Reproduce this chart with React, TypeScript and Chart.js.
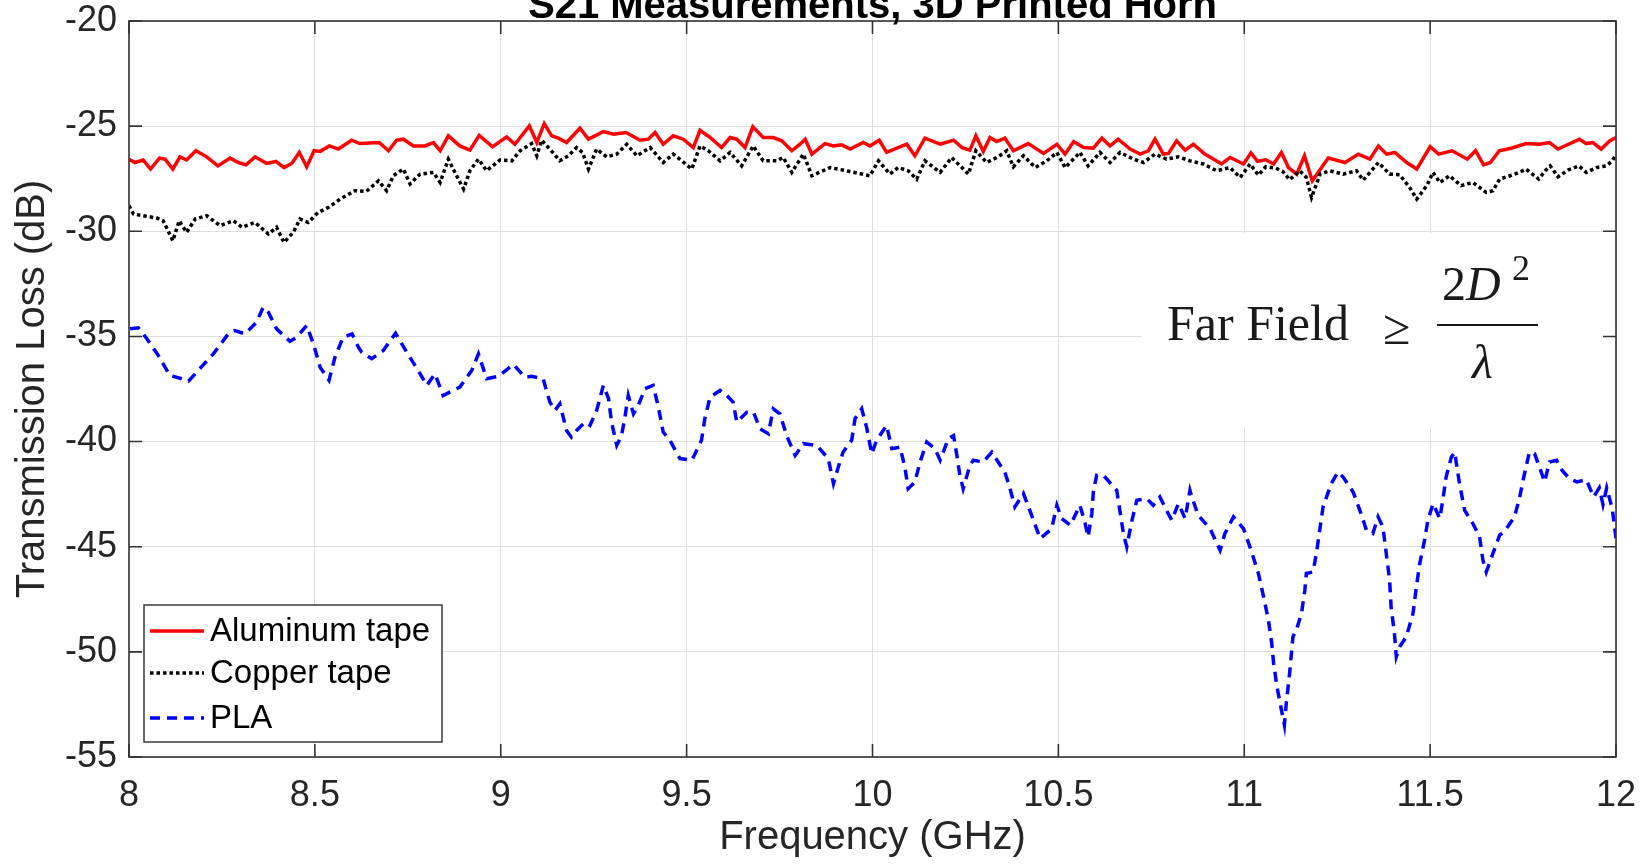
import React, { useEffect, useRef } from "react";
import { Chart, registerables } from "chart.js";

Chart.register(...registerables);

const TITLE = "S21 Measurements, 3D Printed Horn";
const X_LABEL = "Frequency (GHz)";
const Y_LABEL = "Transmission Loss (dB)";
const SERIES_NAMES = ["Aluminum tape", "Copper tape", "PLA"];

const xTicks = [8, 8.5, 9, 9.5, 10, 10.5, 11, 11.5, 12];
const yTicks = [-55, -50, -45, -40, -35, -30, -25, -20];

const alFreq = [
  8.0, 8.016, 8.038, 8.058, 8.082, 8.097, 8.118, 8.137, 8.155, 8.18, 8.209, 8.239, 8.272, 8.294, 8.315, 8.339,
  8.37, 8.395, 8.417, 8.438, 8.458, 8.478, 8.498, 8.514, 8.539, 8.563, 8.599, 8.621, 8.673, 8.698, 8.72, 8.738,
  8.765, 8.796, 8.819, 8.837, 8.859, 8.89, 8.917, 8.942, 8.978, 9.016, 9.038, 9.077, 9.097, 9.117, 9.137, 9.155,
  9.177, 9.213, 9.236, 9.276, 9.303, 9.337, 9.375, 9.397, 9.415, 9.437, 9.464, 9.491, 9.518, 9.536, 9.563, 9.594,
  9.617, 9.635, 9.657, 9.678, 9.706, 9.733, 9.756, 9.783, 9.805, 9.819, 9.837, 9.872, 9.895, 9.917, 9.94, 9.975,
  9.993, 10.018, 10.038, 10.069, 10.092, 10.114, 10.141, 10.182, 10.218, 10.241, 10.262, 10.278, 10.298, 10.316,
  10.334, 10.356, 10.379, 10.419, 10.46, 10.496, 10.518, 10.541, 10.568, 10.594, 10.617, 10.639, 10.661, 10.693,
  10.72, 10.742, 10.76, 10.782, 10.796, 10.818, 10.841, 10.863, 10.894, 10.939, 10.962, 10.998, 11.018, 11.036,
  11.058, 11.079, 11.1, 11.119, 11.141, 11.162, 11.183, 11.226, 11.271, 11.307, 11.338, 11.361, 11.383, 11.405,
  11.437, 11.464, 11.5, 11.523, 11.559, 11.6, 11.622, 11.644, 11.662, 11.686, 11.718, 11.758, 11.794, 11.821,
  11.844, 11.902, 11.92, 11.938, 11.96, 11.983, 12.0,
];
const alLoss = [
  -26.57, -26.73, -26.61, -27.04, -26.52, -26.57, -27.04, -26.46, -26.61, -26.17, -26.46, -26.89, -26.52, -26.73, -26.84, -26.46,
  -26.77, -26.68, -26.97, -26.77, -26.25, -26.93, -26.17, -26.2, -25.94, -26.09, -25.67, -25.83, -25.78, -26.17, -25.67, -25.62,
  -25.94, -25.94, -25.78, -26.17, -25.46, -25.94, -26.14, -25.44, -25.98, -25.51, -25.86, -24.99, -25.78, -24.88, -25.46, -25.57,
  -25.78, -25.1, -25.62, -25.26, -25.38, -25.3, -25.67, -25.62, -25.3, -25.86, -25.46, -25.62, -26.02, -25.2, -25.54, -26.02,
  -25.54, -25.62, -26.02, -25.03, -25.54, -25.54, -25.7, -26.17, -25.86, -25.62, -26.33, -25.83, -25.94, -25.89, -26.09, -25.78,
  -25.94, -25.67, -26.25, -26.02, -25.86, -26.41, -25.57, -25.86, -25.67, -26.02, -26.14, -25.46, -26.2, -25.54,
  -25.73, -25.57, -26.17, -25.83, -26.3, -25.86, -26.33, -25.73, -26.02, -26.05, -25.57, -25.94, -25.62, -26.09,
  -26.33, -26.17, -25.62, -26.33, -26.3, -25.7, -26.14, -25.86, -26.33, -26.8, -26.49, -26.8, -26.27, -26.67,
  -26.6, -26.8, -26.25, -26.97, -27.28, -26.41, -27.6, -26.52, -26.73, -26.33, -26.57, -25.94, -26.33, -26.25,
  -26.73, -27.04, -25.98, -26.33, -26.17, -26.57, -26.17, -26.84, -26.73, -26.17, -26.05, -25.83, -25.86, -25.78,
  -26.09, -25.62, -25.83, -25.78, -26.09, -25.7, -25.54,
];

const cuFreq = [
  8.0, 8.012, 8.038, 8.075, 8.092, 8.118, 8.135, 8.155, 8.178, 8.209, 8.245, 8.281, 8.304, 8.339, 8.375, 8.397,
  8.417, 8.442, 8.46, 8.482, 8.509, 8.536, 8.568, 8.608, 8.639, 8.671, 8.693, 8.711, 8.738, 8.756, 8.783, 8.819,
  8.837, 8.859, 8.872, 8.9, 8.917, 8.94, 8.962, 8.998, 9.03, 9.052, 9.083, 9.097, 9.11, 9.132, 9.159, 9.182,
  9.204, 9.22, 9.236, 9.258, 9.285, 9.312, 9.339, 9.366, 9.402, 9.437, 9.464, 9.487, 9.514, 9.536, 9.558, 9.59,
  9.617, 9.648, 9.679, 9.706, 9.742, 9.76, 9.783, 9.814, 9.837, 9.886, 9.94, 9.993, 10.016, 10.047, 10.069, 10.096,
  10.119, 10.141, 10.182, 10.213, 10.258, 10.278, 10.307, 10.338, 10.361, 10.379, 10.406, 10.438, 10.469, 10.496,
  10.518, 10.558, 10.58, 10.612, 10.639, 10.666, 10.702, 10.729, 10.76, 10.791, 10.823, 10.854, 10.89, 10.926,
  10.962, 10.989, 11.016, 11.038, 11.058, 11.085, 11.104, 11.122, 11.149, 11.167, 11.181, 11.204, 11.23, 11.266,
  11.302, 11.32, 11.361, 11.391, 11.418, 11.445, 11.464, 11.491, 11.508, 11.526, 11.552, 11.583, 11.615, 11.651,
  11.669, 11.687, 11.715, 11.74, 11.758, 11.792, 11.81, 11.823, 11.844, 11.871, 11.9, 11.92, 11.947, 11.974, 11.99,
  12.0,
];
const cuLoss = [
  -28.78, -29.18, -29.26, -29.37, -29.5, -30.45, -29.5, -30.05, -29.42, -29.26, -29.73, -29.5, -29.81, -29.58, -30.13, -29.81,
  -30.53, -30.05, -29.42, -29.58, -29.1, -28.87, -28.47, -28.07, -28.1, -27.6, -28.07, -27.36, -27.04, -27.75, -27.28, -27.2,
  -27.68, -26.57, -27.04, -27.99, -27.12, -26.57, -27.12, -26.61, -26.65, -26.17, -25.83, -26.41, -25.67, -26.09, -26.65, -26.41,
  -26.02, -26.25, -27.04, -26.09, -26.46, -26.33, -25.86, -26.41, -26.02, -26.73, -26.33, -26.65, -27.04, -25.94, -26.17, -26.65,
  -26.25, -26.89, -25.94, -26.65, -26.65, -26.49, -27.2, -26.33, -27.36, -26.97, -27.16, -27.36, -26.65, -27.28, -26.97, -27.12,
  -27.52, -26.65, -27.2, -26.49, -27.28, -26.17, -26.73, -26.46, -26.17, -26.93, -26.41, -26.97, -26.65, -26.25,
  -26.97, -26.25, -26.89, -26.25, -26.73, -26.25, -26.57, -26.73, -26.33, -26.57, -26.46, -26.65, -26.8, -27.12,
  -26.97, -27.44, -26.8, -27.33, -26.93, -27.0, -27.16, -27.55, -27.12, -27.44, -28.39, -27.28, -27.12, -27.28,
  -27.12, -27.57, -26.73, -27.28, -27.31, -27.92, -28.47, -27.83, -27.2, -27.68, -27.36, -27.83, -27.68, -28.15,
  -28.07, -27.52, -27.36, -27.2, -27.04, -27.52, -27.12, -26.89, -27.41, -27.09, -26.89, -27.2, -26.97, -26.89, -26.65,
  -26.33,
];

const plaFreq = [
  8.003, 8.025, 8.048, 8.079, 8.11, 8.142, 8.16, 8.19, 8.227, 8.267, 8.285, 8.312, 8.343, 8.361, 8.375, 8.397,
  8.433, 8.451, 8.478, 8.496, 8.514, 8.538, 8.554, 8.576, 8.6, 8.617, 8.626, 8.653, 8.684, 8.717, 8.747, 8.778,
  8.801, 8.823, 8.845, 8.89, 8.922, 8.94, 8.962, 8.993, 9.034, 9.065, 9.083, 9.114, 9.132, 9.146, 9.159, 9.177,
  9.19, 9.204, 9.227, 9.24, 9.258, 9.276, 9.29, 9.298, 9.312, 9.325, 9.334, 9.343, 9.357, 9.37, 9.388, 9.41,
  9.424, 9.437, 9.455, 9.482, 9.514, 9.54, 9.549, 9.563, 9.59, 9.608, 9.625, 9.635, 9.662, 9.68, 9.697, 9.72,
  9.733, 9.751, 9.769, 9.792, 9.814, 9.85, 9.881, 9.895, 9.908, 9.921, 9.944, 9.953, 9.971, 9.984, 9.998, 10.011,
  10.038, 10.052, 10.074, 10.087, 10.096, 10.114, 10.128, 10.146, 10.168, 10.182, 10.204, 10.218, 10.227, 10.235,
  10.244, 10.262, 10.271, 10.298, 10.321, 10.329, 10.356, 10.37, 10.383, 10.406, 10.428, 10.451, 10.482, 10.496,
  10.509, 10.532, 10.558, 10.572, 10.58, 10.59, 10.594, 10.603, 10.621, 10.657, 10.666, 10.675, 10.684, 10.697,
  10.711, 10.738, 10.755, 10.773, 10.791, 10.805, 10.823, 10.841, 10.854, 10.859, 10.876, 10.908, 10.935, 10.948,
  10.971, 10.998, 11.02, 11.038, 11.052, 11.065, 11.074, 11.079, 11.088, 11.1, 11.108, 11.113, 11.122, 11.131,
  11.14, 11.154, 11.163, 11.167, 11.185, 11.194, 11.203, 11.212, 11.234, 11.252, 11.266, 11.293, 11.311, 11.329,
  11.346, 11.36, 11.373, 11.382, 11.391, 11.395, 11.404, 11.409, 11.418, 11.436, 11.454, 11.463, 11.472, 11.485,
  11.494, 11.508, 11.526, 11.534, 11.543, 11.557, 11.566, 11.579, 11.593, 11.615, 11.633, 11.642, 11.651, 11.669,
  11.687, 11.699, 11.727, 11.74, 11.754, 11.767, 11.781, 11.794, 11.808, 11.821, 11.84, 11.855, 11.875, 11.895,
  11.92, 11.94, 11.955, 11.965, 11.975, 11.99, 12.0,
];
const plaLoss = [
  -34.64, -34.59, -35.11, -35.91, -36.86, -37.01, -37.13, -36.54, -35.83, -34.88, -34.72, -34.88, -34.33, -33.61, -33.85, -34.64,
  -35.23, -35.04, -34.48, -35.35, -36.46, -37.09, -35.99, -35.04, -34.88, -35.51, -35.75, -36.06, -35.67, -34.85, -35.75, -36.62,
  -37.33, -36.78, -37.81, -37.41, -36.62, -35.83, -37.01, -36.9, -36.33, -36.94, -36.9, -37.01, -38.12, -38.52, -38.2, -39.47,
  -39.79, -39.47, -39.07, -39.23, -38.52, -37.33, -37.96, -39.07, -40.18, -39.71, -38.84, -37.81, -38.68, -38.28, -37.49, -37.33,
  -38.36, -39.55, -39.94, -40.81, -40.89, -39.94, -38.91, -37.89, -37.57, -37.81, -38.12, -39.07, -38.6, -38.6, -39.39, -39.63,
  -38.44, -38.68, -39.71, -40.66, -40.1, -40.18, -40.81, -42.0, -41.21, -40.5, -39.94, -38.91, -38.44, -39.31, -40.58, -39.94,
  -39.23, -40.34, -40.26, -41.21, -42.24, -41.92, -40.97, -40.02, -40.34, -40.89, -39.86, -39.71, -40.66, -41.6,
  -42.24, -41.13, -40.89, -40.97, -40.5, -40.73, -41.45, -42.24, -43.11, -42.47, -43.5, -44.61, -44.14, -43.03,
  -43.66, -43.98, -43.03, -43.9, -44.53, -43.42, -42.4, -41.6, -41.6, -42.32, -43.35, -44.37, -45.01, -43.82,
  -42.79, -42.71, -43.03, -42.63, -43.27, -43.74, -42.95, -43.66, -42.32, -42.63, -43.5, -44.14, -45.17, -44.37,
  -43.58, -44.14, -45.25, -46.27, -47.38, -48.49, -49.6, -50.55, -51.66, -52.76, -53.48, -52.45, -51.02, -49.28,
  -48.97, -48.17, -47.07, -46.27, -46.2, -45.32, -44.22, -43.11, -42.0, -41.45, -41.69, -42.4, -43.27, -44.22,
  -44.37, -43.58, -44.06, -45.32, -46.59, -47.86, -49.12, -50.23, -49.76, -49.28, -48.17, -46.91, -45.8, -44.69,
  -43.74, -42.95, -43.66, -42.79, -41.69, -40.74, -40.5, -42.0, -43.27, -43.9, -44.53, -45.64, -46.2, -45.32,
  -44.45, -44.3, -43.58, -42.71, -41.52, -40.5, -40.58, -41.21, -41.92, -40.97, -40.89, -41.37, -41.76, -41.92,
  -41.81, -42.63, -42.2, -43.0, -42.2, -43.2, -44.6,
];

const SANS = '"Liberation Sans", Arial, Helvetica, sans-serif';
const SERIF = '"Liberation Serif", "Times New Roman", Times, serif';
const AXIS_COLOR = "#333333";
const TEXT_COLOR = "#262626";
const GRID_COLOR = "#dedede";

const toPoints = (xs: number[], ys: number[]) => xs.map((x, i) => ({ x, y: ys[i] }));

const titlePlugin = {
  id: "cutTitle",
  afterDraw(chart: any) {
    const { ctx, chartArea } = chart;
    ctx.save();
    ctx.font = `bold 40px ${SANS}`;
    ctx.fillStyle = "#000000";
    ctx.textAlign = "center";
    ctx.textBaseline = "alphabetic";
    ctx.fillText(TITLE, (chartArea.left + chartArea.right) / 2, 18);
    ctx.restore();
  },
};

const formulaPlugin = {
  id: "farField",
  beforeDatasetsDraw(chart: any) {
    const { ctx } = chart;
    const xs = chart.scales.x;
    const ys = chart.scales.y;
    const x0 = xs.getPixelForValue(10.725);
    const x1 = xs.getPixelForValue(11.99);
    const y0 = ys.getPixelForValue(-30.1);
    const y1 = ys.getPixelForValue(-39.33);
    ctx.save();
    ctx.fillStyle = "#ffffff";
    ctx.fillRect(x0, y0, x1 - x0, y1 - y0);
    ctx.restore();
  },
  afterDatasetsDraw(chart: any) {
    const { ctx } = chart;
    ctx.save();
    ctx.fillStyle = "#1a1a1a";
    ctx.textBaseline = "alphabetic";
    ctx.textAlign = "left";
    ctx.font = `50px ${SERIF}`;
    ctx.fillText("Far Field", 1167, 340);
    ctx.fillText("\u2265", 1383, 344);
    ctx.font = `48px ${SERIF}`;
    ctx.fillText("2", 1442, 300);
    const w2 = ctx.measureText("2").width;
    ctx.font = `italic 48px ${SERIF}`;
    ctx.fillText("D", 1442 + w2, 300);
    ctx.font = `36px ${SERIF}`;
    ctx.fillText("2", 1512, 280);
    ctx.strokeStyle = "#1a1a1a";
    ctx.lineWidth = 2;
    ctx.beginPath();
    ctx.moveTo(1437, 325);
    ctx.lineTo(1538, 325);
    ctx.stroke();
    ctx.font = `italic 48px ${SERIF}`;
    ctx.fillText("\u03bb", 1472, 378);
    ctx.restore();
  },
};

const frameLegendPlugin = {
  id: "frameLegend",
  afterDraw(chart: any) {
    const { ctx, chartArea } = chart;
    const { left, right, top, bottom } = chartArea;
    const xs = chart.scales.x;
    const ys = chart.scales.y;
    const tl = 13;
    ctx.save();
    ctx.strokeStyle = AXIS_COLOR;
    ctx.lineWidth = 1.6;
    ctx.beginPath();
    for (const v of xTicks) {
      const px = xs.getPixelForValue(v);
      ctx.moveTo(px, bottom);
      ctx.lineTo(px, bottom - tl);
      ctx.moveTo(px, top);
      ctx.lineTo(px, top + tl);
    }
    for (const v of yTicks) {
      const py = ys.getPixelForValue(v);
      ctx.moveTo(left, py);
      ctx.lineTo(left + tl, py);
      ctx.moveTo(right, py);
      ctx.lineTo(right - tl, py);
    }
    ctx.stroke();
    ctx.strokeRect(left, top, right - left, bottom - top);

    // legend
    const bx0 = 144, bx1 = 442, by0 = 605, by1 = 742;
    ctx.fillStyle = "#ffffff";
    ctx.fillRect(bx0, by0, bx1 - bx0, by1 - by0);
    ctx.strokeStyle = "#3a3a3a";
    ctx.lineWidth = 1.5;
    ctx.strokeRect(bx0, by0, bx1 - bx0, by1 - by0);
    const rows = [631, 673, 718];
    chart.data.datasets.forEach((ds: any, i: number) => {
      const y = rows[i];
      ctx.save();
      ctx.strokeStyle = ds.borderColor;
      ctx.lineWidth = ds.borderWidth;
      ctx.setLineDash(ds.borderDash || []);
      ctx.lineCap = "butt";
      ctx.beginPath();
      ctx.moveTo(150, y);
      ctx.lineTo(204, y);
      ctx.stroke();
      ctx.restore();
      ctx.fillStyle = "#000000";
      ctx.font = `33px ${SANS}`;
      ctx.textAlign = "left";
      ctx.textBaseline = "middle";
      ctx.fillText(ds.label, 210, y + 1);
    });
    ctx.restore();
  },
};

export default function App() {
  const canvasRef = useRef<HTMLCanvasElement | null>(null);

  useEffect(() => {
    document.body.style.margin = "0";
    const canvas = canvasRef.current;
    if (!canvas) return;
    const chart = new Chart(canvas, {
      type: "line",
      data: {
        datasets: [
          {
            label: SERIES_NAMES[0],
            data: toPoints(alFreq, alLoss),
            borderColor: "#ff0000",
            borderWidth: 3.5,
            borderDash: [],
            pointRadius: 0,
            fill: false,
            tension: 0,
            order: 3,
          },
          {
            label: SERIES_NAMES[1],
            data: toPoints(cuFreq, cuLoss),
            borderColor: "#000000",
            borderWidth: 3.5,
            borderDash: [3.5, 3],
            pointRadius: 0,
            fill: false,
            tension: 0,
            order: 2,
          },
          {
            label: SERIES_NAMES[2],
            data: toPoints(plaFreq, plaLoss),
            borderColor: "#0000ff",
            borderWidth: 3.5,
            borderDash: [10, 7],
            pointRadius: 0,
            fill: false,
            tension: 0,
            order: 1,
          },
        ],
      },
      options: {
        responsive: false,
        animation: false,
        devicePixelRatio: 1,
        layout: { padding: { top: 21, right: 24, left: 0, bottom: 0 } },
        plugins: {
          legend: { display: false },
          title: { display: false },
          tooltip: { enabled: false },
        },
        scales: {
          x: {
            type: "linear",
            min: 8,
            max: 12,
            afterBuildTicks: (s: any) => {
              s.ticks = xTicks.map((v) => ({ value: v }));
            },
            afterFit: (s: any) => {
              s.height = 110;
              s.paddingLeft = 0;
              s.paddingRight = 0;
              s.paddingTop = 0;
              s.paddingBottom = 0;
            },
            ticks: {
              autoSkip: false,
              maxRotation: 0,
              padding: 17,
              color: TEXT_COLOR,
              font: { family: SANS, size: 36 },
              callback: (v: any) => String(v),
            },
            grid: { color: GRID_COLOR, lineWidth: 1, drawTicks: false },
            border: { display: false },
            title: {
              display: true,
              text: X_LABEL,
              color: TEXT_COLOR,
              font: { family: SANS, size: 40 },
              padding: { top: 0, bottom: 5 },
            },
          },
          y: {
            type: "linear",
            min: -55,
            max: -20,
            afterBuildTicks: (s: any) => {
              s.ticks = yTicks.map((v) => ({ value: v }));
            },
            afterFit: (s: any) => {
              s.width = 129;
              s.paddingLeft = 0;
              s.paddingRight = 0;
              s.paddingTop = 0;
              s.paddingBottom = 0;
            },
            ticks: {
              autoSkip: false,
              padding: 12,
              color: TEXT_COLOR,
              font: { family: SANS, size: 36, lineHeight: 1 },
              callback: (v: any) => String(v),
            },
            grid: { color: GRID_COLOR, lineWidth: 1, drawTicks: false },
            border: { display: false },
            title: {
              display: true,
              text: Y_LABEL,
              color: TEXT_COLOR,
              font: { family: SANS, size: 40 },
              padding: { top: 9, bottom: 0 },
            },
          },
        },
      },
      plugins: [formulaPlugin, frameLegendPlugin, titlePlugin],
    } as any);
    return () => chart.destroy();
  }, []);

  return (
    <div style={{ width: 1640, height: 867 }}>
      <canvas ref={canvasRef} width={1640} height={867} style={{ display: "block" }} />
    </div>
  );
}
